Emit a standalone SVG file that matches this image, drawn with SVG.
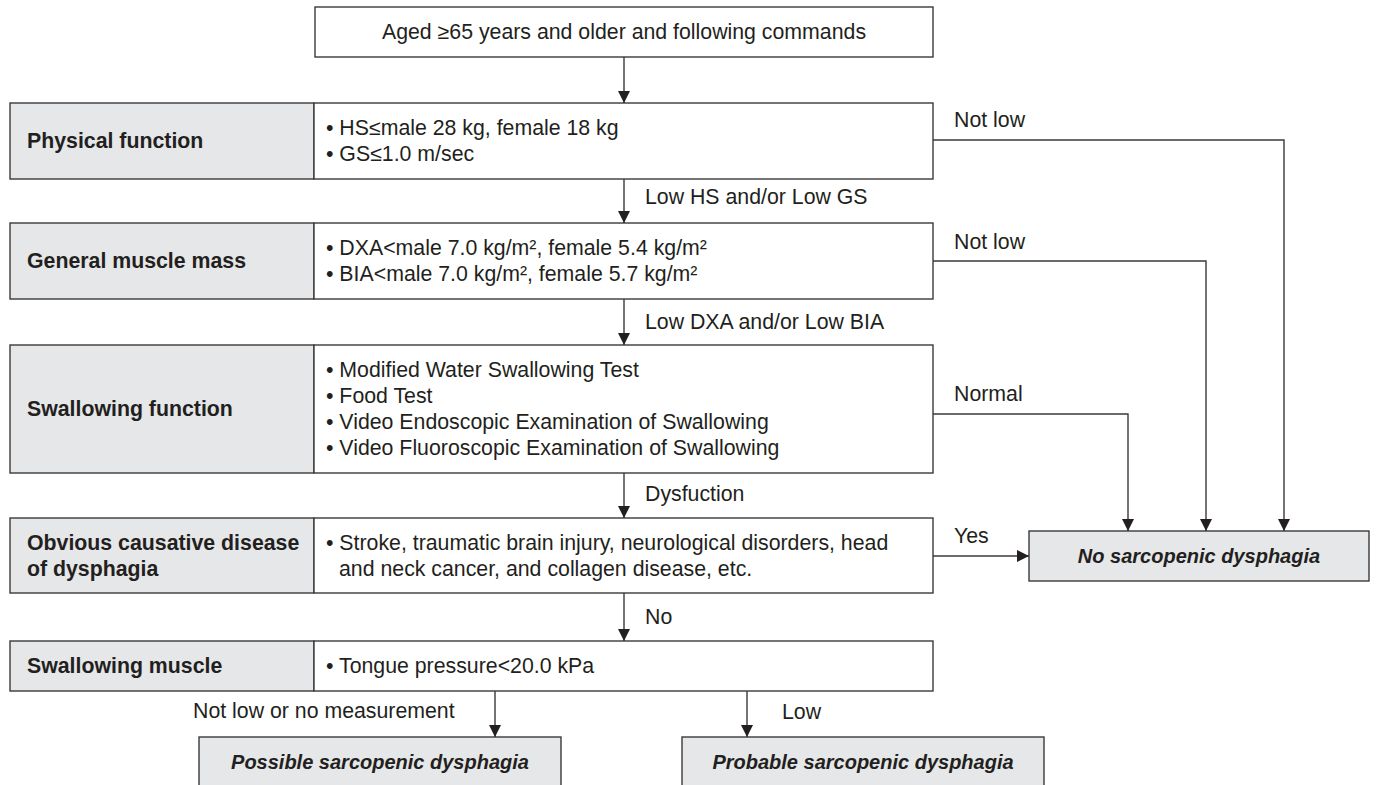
<svg xmlns="http://www.w3.org/2000/svg" width="1376" height="785" viewBox="0 0 1376 785">
<style>
.box{fill:#ffffff;stroke:#3a3a3a;stroke-width:1.4}
.gray{fill:#e6e7e8;stroke:#3a3a3a;stroke-width:1.4}
.t{font-family:"Liberation Sans",Arial,sans-serif;font-size:21.3px;fill:#231f20}
.b{font-weight:bold}
.bi{font-weight:bold;font-style:italic;font-size:20px}
.c{text-anchor:middle}
.ln{fill:none;stroke:#3a3a3a;stroke-width:1.4}
.ar{fill:none;stroke:#3a3a3a;stroke-width:1.4;marker-end:url(#ah)}
</style>
<defs>
<marker id="ah" markerUnits="userSpaceOnUse" markerWidth="12" markerHeight="12" viewBox="0 0 12 12" refX="12" refY="6" orient="auto">
<path d="M0,0 L12,6 L0,12 z" fill="#231f20"/>
</marker>
</defs>
<rect width="1376" height="785" fill="#ffffff"/>

<g id="start">
<rect class="box" x="315" y="7" width="618" height="50"/>
<text class="t c" x="624" y="39">Aged ≥65 years and older and following commands</text>
</g>

<g id="physical">
<rect class="gray" x="10" y="103" width="304" height="76"/>
<rect class="box" x="314" y="103" width="619" height="76"/>
<text class="t b" x="27" y="148">Physical function</text>
<text class="t" x="326" y="135">• HS≤male 28 kg, female 18 kg</text>
<text class="t" x="326" y="161">• GS≤1.0 m/sec</text>
</g>

<g id="muscle-mass">
<rect class="gray" x="10" y="223" width="304" height="76"/>
<rect class="box" x="314" y="223" width="619" height="76"/>
<text class="t b" x="27" y="268">General muscle mass</text>
<text class="t" x="326" y="255">• DXA&lt;male 7.0 kg/m², female 5.4 kg/m²</text>
<text class="t" x="326" y="281">• BIA&lt;male 7.0 kg/m², female 5.7 kg/m²</text>
</g>

<g id="swallowing-function">
<rect class="gray" x="10" y="345" width="304" height="128"/>
<rect class="box" x="314" y="345" width="619" height="128"/>
<text class="t b" x="27" y="416">Swallowing function</text>
<text class="t" x="326" y="377">• Modified Water Swallowing Test</text>
<text class="t" x="326" y="403">• Food Test</text>
<text class="t" x="326" y="429">• Video Endoscopic Examination of Swallowing</text>
<text class="t" x="326" y="455">• Video Fluoroscopic Examination of Swallowing</text>
</g>

<g id="causative-disease">
<rect class="gray" x="10" y="518" width="304" height="75"/>
<rect class="box" x="314" y="518" width="619" height="75"/>
<text class="t b" x="27" y="550">Obvious causative disease</text>
<text class="t b" x="27" y="576">of dysphagia</text>
<text class="t" x="326" y="550">• Stroke, traumatic brain injury, neurological disorders, head</text>
<text class="t" x="339" y="576">and neck cancer, and collagen disease, etc.</text>
</g>

<g id="swallowing-muscle">
<rect class="gray" x="10" y="641" width="304" height="50"/>
<rect class="box" x="314" y="641" width="619" height="50"/>
<text class="t b" x="27" y="673">Swallowing muscle</text>
<text class="t" x="326" y="673">• Tongue pressure&lt;20.0 kPa</text>
</g>

<g id="no-sarcopenic">
<rect class="gray" x="1029" y="531" width="340" height="50"/>
<text class="t bi c" x="1199" y="563">No sarcopenic dysphagia</text>
</g>

<g id="possible">
<rect class="gray" x="199" y="737" width="362" height="56"/>
<text class="t bi c" x="380" y="769">Possible sarcopenic dysphagia</text>
</g>

<g id="probable">
<rect class="gray" x="682" y="737" width="362" height="56"/>
<text class="t bi c" x="863" y="769">Probable sarcopenic dysphagia</text>
</g>

<g id="connectors">
<line class="ar" x1="624" y1="57" x2="624" y2="103"/>
<line class="ar" x1="624" y1="179" x2="624" y2="223"/>
<line class="ar" x1="624" y1="299" x2="624" y2="345"/>
<line class="ar" x1="624" y1="473" x2="624" y2="518"/>
<line class="ar" x1="624" y1="593" x2="624" y2="641"/>
<polyline class="ar" points="933,140 1284,140 1284,531"/>
<polyline class="ar" points="933,261 1206,261 1206,531"/>
<polyline class="ar" points="933,414 1128,414 1128,531"/>
<line class="ar" x1="933" y1="556" x2="1029" y2="556"/>
<line class="ar" x1="495" y1="691" x2="495" y2="737"/>
<line class="ar" x1="747" y1="691" x2="747" y2="737"/>
<text class="t" x="645" y="204">Low HS and/or Low GS</text>
<text class="t" x="645" y="329">Low DXA and/or Low BIA</text>
<text class="t" x="645" y="501">Dysfuction</text>
<text class="t" x="645" y="624">No</text>
<text class="t" x="954" y="127">Not low</text>
<text class="t" x="954" y="249">Not low</text>
<text class="t" x="954" y="401">Normal</text>
<text class="t" x="954" y="543">Yes</text>
<text class="t" x="193" y="718">Not low or no measurement</text>
<text class="t" x="782" y="719">Low</text>
</g>
</svg>
